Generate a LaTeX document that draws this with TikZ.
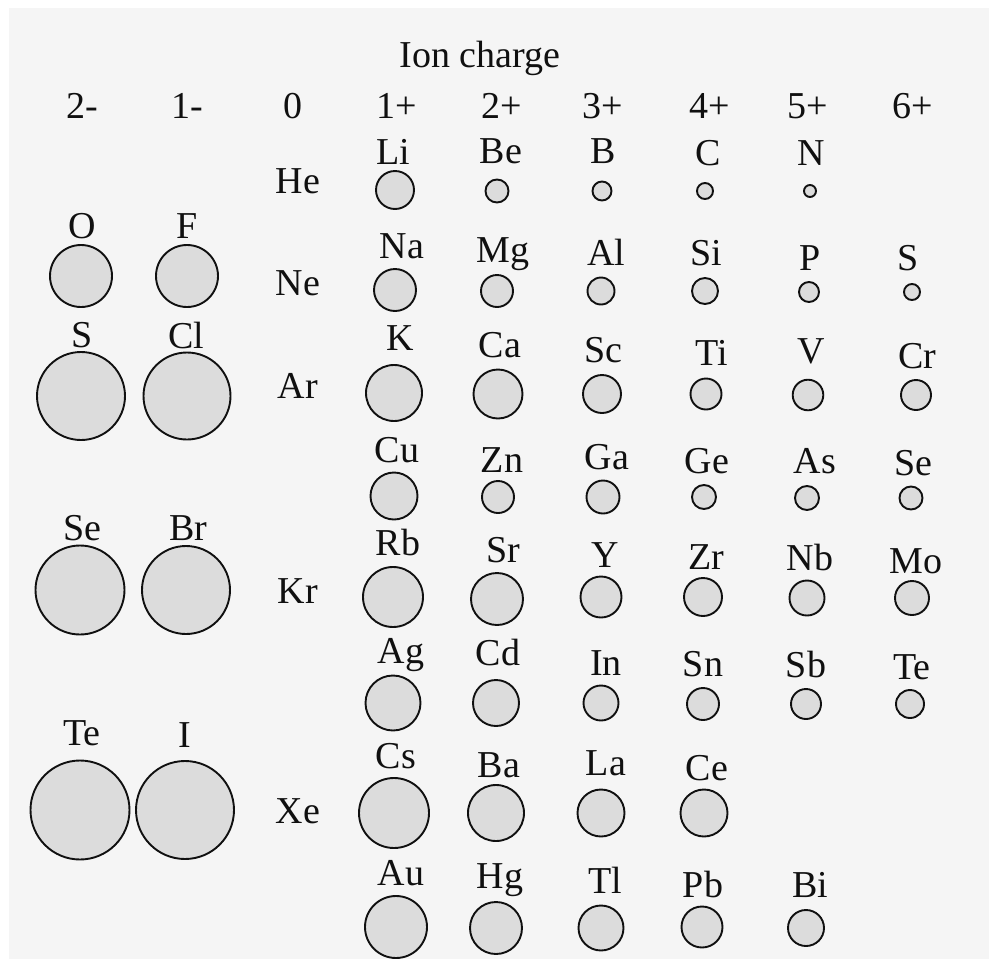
\documentclass[tikz,border=0pt]{standalone}
\usepackage{fontspec}
\setmainfont{Liberation Serif}
\definecolor{bgc}{HTML}{F5F5F5}
\definecolor{ionfill}{HTML}{DCDCDC}
\definecolor{ink}{HTML}{101010}
\tikzset{
  lab/.style={anchor=base, inner sep=0pt, text=ink, font=\fontsize{38}{41}\selectfont},
  ion/.style={circle, draw=ink, fill=ionfill, line width=1.9pt, inner sep=0pt, outer sep=0pt},
}
% #1 name, #2 text, #3 label x, #4 label baseline, #5 cx, #6 cy, #7 radius
\newcommand\ionentry[7]{%
  \node[lab] (l#1) at (#3,#4) {#2};
  \node[ion, minimum size={2*#7pt}] (c#1) at (#5,#6) {};
}
\begin{document}
\begin{tikzpicture}[x=1pt,y=-1pt]
\useasboundingbox (0,0) rectangle (989,959);
\fill[white] (0,0) rectangle (989,959);
\fill[bgc] (9,8) rectangle (989,959);
% header
\node[lab] (title) at (480,67) {Ion charge};
\node[lab] (q2m) at (82,118) {2-};
\node[lab] (q1m) at (187,118) {1-};
\node[lab] (q0) at (293,118) {0};
\node[lab] (q1p) at (397,118) {1+};
\node[lab] (q2p) at (502,118) {2+};
\node[lab] (q3p) at (603,118) {3+};
\node[lab] (q4p) at (710,118) {4+};
\node[lab] (q5p) at (808,118) {5+};
\node[lab] (q6p) at (913,118) {6+};
% noble gases
\node[lab] (He) at (298,193) {He};
\node[lab] (Ne) at (298,295) {Ne};
\node[lab] (Ar) at (298,398) {Ar};
\node[lab] (Kr) at (298,603) {Kr};
\node[lab] (Xe) at (298,823) {Xe};
% row 1
\ionentry{Li}{Li}{393}{164}{395}{190}{19}
\ionentry{Be}{Be}{501}{163}{497}{191}{11.5}
\ionentry{B}{B}{603}{163}{602}{191}{9.5}
\ionentry{C}{C}{708}{165}{705}{191}{8}
\ionentry{N}{N}{811}{165}{810}{191}{6}
% row 2
\ionentry{O}{O}{82}{238}{81}{276}{31}
\ionentry{F}{F}{187}{238}{187}{276}{31}
\ionentry{Na}{Na}{402}{258}{395}{290}{21}
\ionentry{Mg}{Mg}{503}{262}{497}{291}{16}
\ionentry{Al}{Al}{606}{265}{601}{291}{13.5}
\ionentry{Si}{Si}{706}{265}{705}{291}{13}
\ionentry{P}{P}{810}{270}{809}{292}{10}
\ionentry{Ssix}{S}{908}{270}{912}{292}{8}
% row 3
\ionentry{Stwo}{S}{82}{347}{81}{396}{44}
\ionentry{Cl}{Cl}{186}{348}{187}{396}{43.5}
\ionentry{K}{K}{400}{350}{394}{393}{28}
\ionentry{Ca}{Ca}{500}{357}{498}{394}{24.5}
\ionentry{Sc}{Sc}{603}{362}{602}{394}{19}
\ionentry{Ti}{Ti}{712}{365}{706}{394}{15.5}
\ionentry{V}{V}{811}{363}{808}{395}{15.3}
\ionentry{Cr}{Cr}{917}{368}{916}{395}{15}
% row 4
\ionentry{Cu}{Cu}{397}{462}{394}{496}{23.5}
\ionentry{Zn}{Zn}{502}{472}{498}{497}{16}
\ionentry{Ga}{Ga}{607}{469}{603}{497}{16.5}
\ionentry{Ge}{Ge}{707}{473}{704}{497}{12}
\ionentry{As}{As}{815}{473}{807}{498}{12}
\ionentry{Sesix}{Se}{913}{475}{911}{498}{11.5}
% row 5
\ionentry{Setwo}{Se}{82}{540}{80}{590}{44.5}
\ionentry{Br}{Br}{188}{540}{186}{590}{44}
\ionentry{Rb}{Rb}{398}{555}{393}{597}{30}
\ionentry{Sr}{Sr}{503}{562}{497}{599}{26}
\ionentry{Y}{Y}{605}{567}{601}{597}{20.5}
\ionentry{Zr}{Zr}{706}{569}{703}{597}{19}
\ionentry{Nb}{Nb}{810}{570}{807}{598}{17.5}
\ionentry{Mo}{Mo}{916}{573}{912}{598}{17}
% row 6
\ionentry{Ag}{Ag}{401}{663}{393}{703}{27.5}
\ionentry{Cd}{Cd}{498}{665}{496}{703}{23}
\ionentry{In}{In}{606}{675}{601}{703}{17.5}
\ionentry{Sn}{Sn}{703}{676}{703}{704}{16}
\ionentry{Sb}{Sb}{806}{677}{806}{704}{15}
\ionentry{Tesix}{Te}{912}{679}{910}{704}{14}
% row 7
\ionentry{Tetwo}{Te}{82}{745}{80}{810}{49.5}
\ionentry{I}{I}{185}{747}{185}{810}{49}
\ionentry{Cs}{Cs}{396}{768}{394}{813}{35}
\ionentry{Ba}{Ba}{499}{777}{496}{813}{28}
\ionentry{La}{La}{606}{775}{601}{813}{23.5}
\ionentry{Ce}{Ce}{707}{780}{704}{813}{23.5}
% row 8
\ionentry{Au}{Au}{401}{885}{396}{927}{31}
\ionentry{Hg}{Hg}{500}{888}{496}{928}{26}
\ionentry{Tl}{Tl}{605}{893}{601}{928}{22.5}
\ionentry{Pb}{Pb}{703}{897}{702}{927}{20.5}
\ionentry{Bi}{Bi}{810}{897}{806}{928}{18}
\end{tikzpicture}
\end{document}
